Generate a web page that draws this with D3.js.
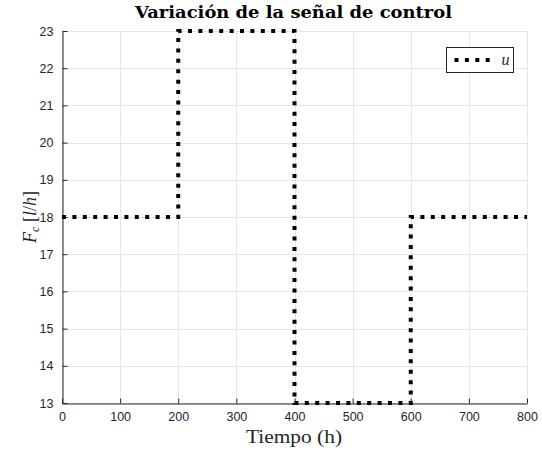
<!DOCTYPE html>
<html>
<head>
<meta charset="utf-8">
<script src="https://cdn.jsdelivr.net/npm/d3@7/dist/d3.min.js"></script>
<style>
  body { margin: 0; background: #fff; }
  svg { display: block; }
</style>
</head>
<body>
<svg id="chart" width="542" height="453"></svg>
<script>
// Control signal u over time (step changes)
const timeHours = [0, 200, 400, 600, 800];
const controlFlow = [18, 23, 13, 18, 18];
const xTicks = [0, 100, 200, 300, 400, 500, 600, 700, 800];
const yTicks = [13, 14, 15, 16, 17, 18, 19, 20, 21, 22, 23];

const W = 542, H = 453;
const margin = { left: 62, right: 15, top: 31, bottom: 50 };
const svg = d3.select("#chart");

const x = d3.scaleLinear().domain([0, 800]).range([margin.left, W - margin.right]);
const y = d3.scaleLinear().domain([13, 23]).range([H - margin.bottom, margin.top]);

const axisColor = "#262626";
const gridColor = "#e6e6e6";
const serif = "'DejaVu Serif', 'Liberation Serif', serif";
const thinSerif = "'Liberation Serif', 'DejaVu Serif', serif";

// grid
const grid = svg.append("g");
grid.selectAll("line.gx").data(xTicks).join("line")
  .attr("x1", d => Math.round(x(d)) + 0.5).attr("x2", d => Math.round(x(d)) + 0.5)
  .attr("y1", y(13)).attr("y2", y(23))
  .attr("stroke", gridColor).attr("stroke-width", 1);
grid.selectAll("line.gy").data(yTicks).join("line")
  .attr("y1", d => Math.round(y(d)) + 0.5).attr("y2", d => Math.round(y(d)) + 0.5)
  .attr("x1", x(0)).attr("x2", x(800))
  .attr("stroke", gridColor).attr("stroke-width", 1);

// axes
const xAxis = d3.axisBottom(x).tickValues(xTicks).tickSizeInner(-5).tickSizeOuter(0).tickPadding(9);
const yAxis = d3.axisLeft(y).tickValues(yTicks).tickSizeInner(-5).tickSizeOuter(0).tickPadding(9);

const gx = svg.append("g").attr("transform", `translate(0,${Math.round(y(13)) + 0.5})`).call(xAxis);
const gy = svg.append("g").attr("transform", `translate(${Math.round(x(0)) + 0.5},0)`).call(yAxis);
[gx, gy].forEach(g => {
  g.select(".domain").attr("stroke", axisColor).attr("stroke-width", 1);
  g.selectAll(".tick line").attr("stroke", axisColor);
  g.selectAll(".tick text").attr("fill", axisColor)
    .style("font-family", "'Liberation Sans', Arial, sans-serif").style("font-size", "12.5px");
});

// control signal line
const line = d3.line()
  .x((d, i) => x(timeHours[i]))
  .y(d => y(d))
  .curve(d3.curveStepAfter);

svg.append("path")
  .datum(controlFlow)
  .attr("d", line)
  .attr("fill", "none")
  .attr("stroke", "#000")
  .attr("stroke-width", 4)
  .attr("stroke-dasharray", "4,6.4")
  .attr("stroke-linecap", "butt");

// title
svg.append("text")
  .attr("x", 293.5).attr("y", 18)
  .attr("text-anchor", "middle")
  .attr("textLength", 317).attr("lengthAdjust", "spacingAndGlyphs")
  .style("font-family", serif)
  .style("font-weight", "bold").style("font-size", "16px")
  .attr("fill", "#000")
  .text("Variación de la señal de control");

// x label
svg.append("text")
  .attr("x", 294).attr("y", 443)
  .attr("text-anchor", "middle")
  .attr("textLength", 96).attr("lengthAdjust", "spacingAndGlyphs")
  .style("font-family", thinSerif)
  .style("font-size", "18px").attr("fill", "#262626")
  .text("Tiempo (h)");

// y label
const yl = svg.append("text")
  .attr("transform", `translate(36,${(y(13) + y(23)) / 2}) rotate(-90)`)
  .attr("text-anchor", "middle")
  .style("font-family", thinSerif)
  .style("font-size", "18px").attr("fill", "#262626");
yl.append("tspan").style("font-style", "italic").text("F");
yl.append("tspan").style("font-style", "italic").style("font-size", "12px").attr("dy", 3).text("c");
yl.append("tspan").attr("dy", -3).text(" [");
yl.append("tspan").style("font-style", "italic").text("l");
yl.append("tspan").text("/");
yl.append("tspan").style("font-style", "italic").text("h");
yl.append("tspan").text("]");

// legend
const lg = svg.append("g").attr("transform", "translate(446.5,47.5)");
lg.append("rect").attr("width", 67).attr("height", 25)
  .attr("fill", "#fff").attr("stroke", axisColor).attr("stroke-width", 1);
lg.append("line").attr("x1", 8).attr("x2", 45).attr("y1", 12.5).attr("y2", 12.5)
  .attr("stroke", "#000").attr("stroke-width", 4).attr("stroke-dasharray", "4,6.4");
lg.append("text").attr("x", 55).attr("y", 17)
  .style("font-family", thinSerif)
  .style("font-style", "italic").style("font-size", "16px").attr("fill", "#262626")
  .text("u");
</script>
</body>
</html>
